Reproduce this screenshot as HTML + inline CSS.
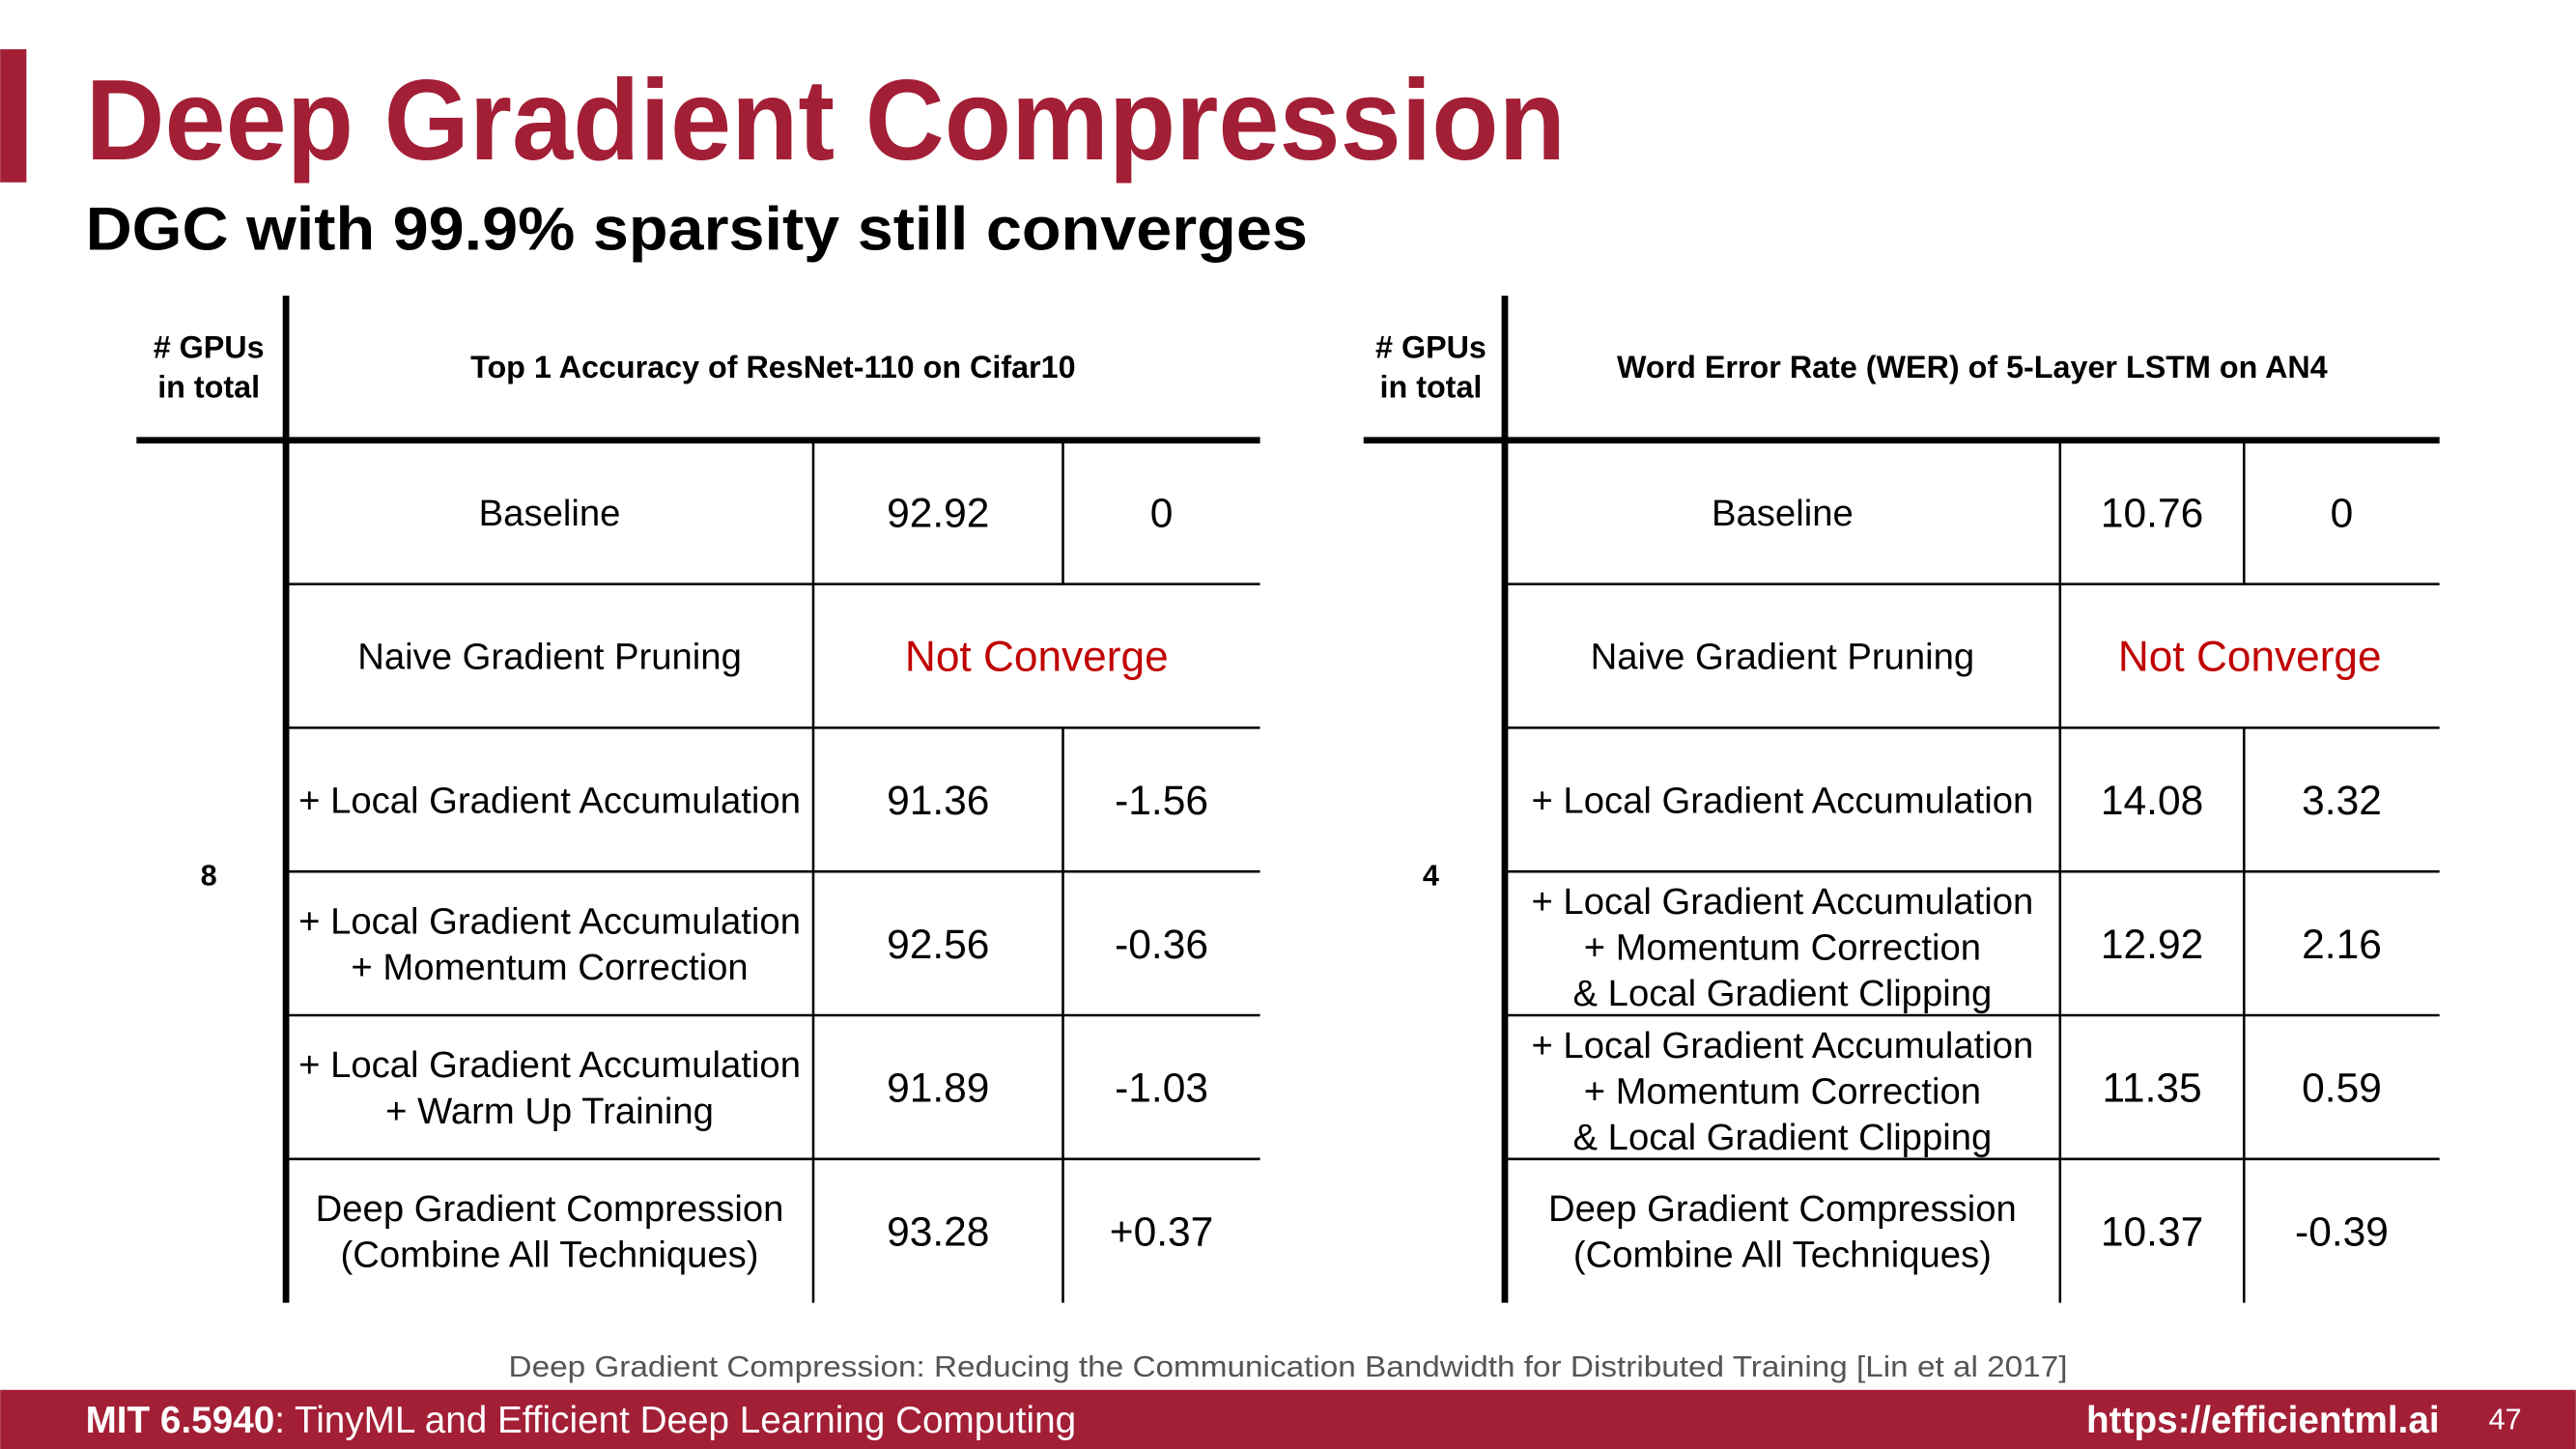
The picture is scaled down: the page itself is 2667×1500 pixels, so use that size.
<!DOCTYPE html>
<html><head><meta charset="utf-8"><style>
html,body{margin:0;padding:0;background:#fff;}
svg{display:block;}
text{font-family:"Liberation Sans",Arial,sans-serif;}
</style></head><body>
<svg id="s" width="2667" height="1500" viewBox="0 0 1568 882" xmlns="http://www.w3.org/2000/svg">
<rect x="0" y="30" width="16" height="81" fill="#a31f36"/>
<text x="52" y="97" font-size="70" font-weight="bold" fill="#a31f36" textLength="901" lengthAdjust="spacingAndGlyphs">Deep Gradient Compression</text>
<text x="52" y="152" font-size="37" font-weight="bold" fill="#000" textLength="744" lengthAdjust="spacingAndGlyphs">DGC with 99.9% sparsity still converges</text>
<g id="t1"></g>
<g id="t2"></g>
<text x="784" y="838" font-size="18" fill="#555" text-anchor="middle" textLength="949" lengthAdjust="spacingAndGlyphs">Deep Gradient Compression: Reducing the Communication Bandwidth for Distributed Training [Lin et al 2017]</text>
<rect x="0" y="846" width="1568" height="36" fill="#a31f36"/>
<text x="52" y="872" font-size="23" fill="#fff" textLength="603" lengthAdjust="spacingAndGlyphs"><tspan font-weight="bold">MIT 6.5940</tspan>: TinyML and Efficient Deep Learning Computing</text>
<text x="1485" y="872" font-size="23" font-weight="bold" fill="#fff" text-anchor="end" textLength="215" lengthAdjust="spacingAndGlyphs">https://efficientml.ai</text>
<text x="1535" y="870" font-size="18" fill="#fff" text-anchor="end">47</text>
</svg>
<script>
const t1Labels = [["Baseline"],["Naive Gradient Pruning"],["+ Local Gradient Accumulation"],["+ Local Gradient Accumulation","+ Momentum Correction"],["+ Local Gradient Accumulation","+ Warm Up Training"],["Deep Gradient Compression","(Combine All Techniques)"]];
const t1Values = ["92.92", null, "91.36", "92.56", "91.89", "93.28"];
const t1Deltas = ["0", null, "-1.56", "-0.36", "-1.03", "+0.37"];
const t2Labels = [["Baseline"],["Naive Gradient Pruning"],["+ Local Gradient Accumulation"],["+ Local Gradient Accumulation","+ Momentum Correction","& Local Gradient Clipping"],["+ Local Gradient Accumulation","+ Momentum Correction","& Local Gradient Clipping"],["Deep Gradient Compression","(Combine All Techniques)"]];
const t2Values = ["10.76", null, "14.08", "12.92", "11.35", "10.37"];
const t2Deltas = ["0", null, "3.32", "2.16", "0.59", "-0.39"];
const NS = "http://www.w3.org/2000/svg";
function mk(g, tag, attrs, txt){const e=document.createElementNS(NS,tag);for(const k in attrs)e.setAttribute(k,attrs[k]);if(txt!=null)e.textContent=txt;g.appendChild(e);return e;}
function build(id, cfg, labels, values, deltas){
  const g=document.getElementById(id);
  const top=268,rowH=87.5,bottom=793;
  let e;
  e=mk(g,'line',{x1:cfg.xl,y1:top,x2:cfg.xr,y2:top,stroke:'#000','stroke-width':4});
  
  
  e=mk(g,'line',{x1:cfg.xv,y1:180,x2:cfg.xv,y2:bottom,stroke:'#000','stroke-width':4});
  
  
  e=mk(g,'text',{x:cfg.gx,y:218,'font-size':19,'font-weight':'bold','text-anchor':'middle'},'# GPUs');
  
  
  mk(g,'text',{x:cfg.gx,y:242,'font-size':19,'font-weight':'bold','text-anchor':'middle'},'in total');
  e=mk(g,'text',{x:(cfg.xv+cfg.xr)/2,y:230,'font-size':19,'font-weight':'bold','text-anchor':'middle'},cfg.title);
  
  
  e=mk(g,'text',{x:cfg.gx,y:539,'font-size':18,'font-weight':'bold','text-anchor':'middle'},cfg.gpus);
  
  
  const c1=(cfg.xv+cfg.s1)/2,c2=(cfg.s1+cfg.s2)/2,c3=(cfg.s2+cfg.xr)/2;
  labels.forEach((lab,i)=>{
    const y0=top+i*rowH,cy=y0+rowH/2;
    if(i>0){e=mk(g,'line',{x1:cfg.xv,y1:y0,x2:cfg.xr,y2:y0,stroke:'#000','stroke-width':1.5});
      
      }
    e=mk(g,'line',{x1:cfg.s1,y1:y0,x2:cfg.s1,y2:y0+rowH,stroke:'#000','stroke-width':1.5});
    
    
    const lh=28,n=lab.length;
    const off = n===3 ? 10 : 8;
    lab.forEach((l,j)=>{
      e=mk(g,'text',{x:c1,y:cy+(j-(n-1)/2)*lh+off,'font-size':22.5,'text-anchor':'middle'},l);
      
      
    });
    if(values[i]==null){
      e=mk(g,'text',{x:(cfg.s1+cfg.xr)/2,y:cy+9,'font-size':26,'text-anchor':'middle',fill:'#c00000'},'Not Converge');
      
      
    } else {
      e=mk(g,'line',{x1:cfg.s2,y1:y0,x2:cfg.s2,y2:y0+rowH,stroke:'#000','stroke-width':1.5});
      
      
      e=mk(g,'text',{x:c2,y:cy+9,'font-size':25,'text-anchor':'middle'},values[i]);
      
      
      e=mk(g,'text',{x:c3,y:cy+9,'font-size':25,'text-anchor':'middle'},deltas[i]);
      
      
    }
  });
}
build('t1',{xl:83,xr:767,xv:174,s1:495,s2:647,gx:127,gpus:'8',title:'Top 1 Accuracy of ResNet-110 on Cifar10'},t1Labels,t1Values,t1Deltas);
build('t2',{xl:830,xr:1485,xv:916,s1:1254,s2:1366,gx:871,gpus:'4',title:'Word Error Rate (WER) of 5-Layer LSTM on AN4'},t2Labels,t2Values,t2Deltas);
</script>
</body></html>
